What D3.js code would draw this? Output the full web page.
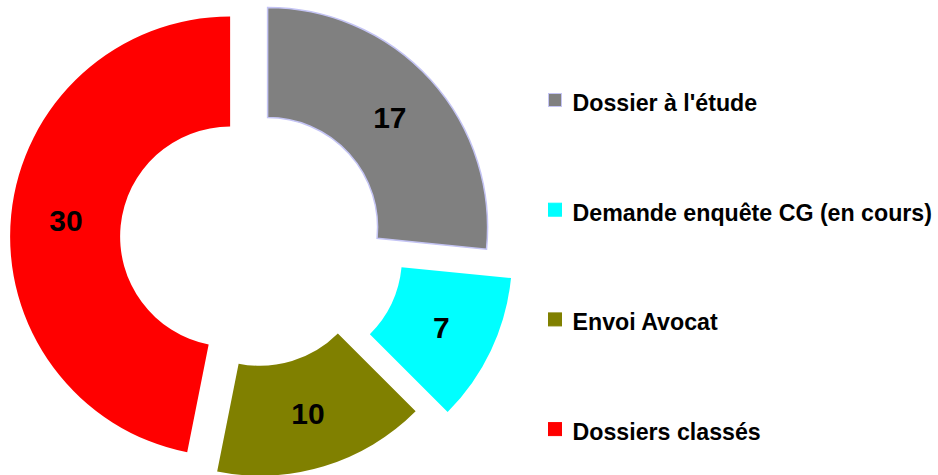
<!DOCTYPE html>
<html>
<head>
<meta charset="utf-8">
<script src="https://cdn.jsdelivr.net/npm/d3@7"></script>
<style>
  body { margin: 0; background: #fff; }
  text { font-family: "Liberation Sans", Arial, sans-serif; font-weight: bold; }
</style>
</head>
<body>
<div class="chart"></div>
<script>
var svgWidth = 938;
var svgHeight = 475;

// data
var categories = ["Dossier à l'étude", "Demande enquête CG (en cours)", "Envoi Avocat", "Dossiers classés"];
var values = [17, 7, 10, 30];
var colors = ["#808080", "#00ffff", "#808000", "#ff0000"];
// how far each slice is pulled out of the ring
var explode = [17, 41, 17.5, 25];

var cx = 255, cy = 239;
var outerR = 220, innerR = 110;

var svg = d3.select(".chart")
  .append("svg")
  .attr("width", svgWidth)
  .attr("height", svgHeight);

var pie = d3.pie()
  .sort(null)
  .value(function (d) { return d; });

var arcs = pie(values);

var arc = d3.arc()
  .innerRadius(innerR)
  .outerRadius(outerR);

var pieGroup = svg.append("g")
  .attr("transform", `translate(${cx}, ${cy})`);

var slices = pieGroup.selectAll("g.slice")
  .data(arcs)
  .enter()
  .append("g")
  .attr("class", "slice")
  .attr("transform", function (d, i) {
    var mid = (d.startAngle + d.endAngle) / 2;
    return `translate(${Math.sin(mid) * explode[i]}, ${-Math.cos(mid) * explode[i]})`;
  });

slices.append("path")
  .attr("d", arc)
  .attr("fill", function (d, i) { return colors[i]; })
  .attr("stroke", function (d, i) { return i === 0 ? "#c4c4f4" : "none"; })
  .attr("stroke-width", 1.5);

slices.append("text")
  .attr("transform", function (d) { return `translate(${arc.centroid(d)})`; })
  .attr("text-anchor", "middle")
  .attr("dy", "0.36em")
  .attr("font-size", "30px")
  .attr("fill", "#000")
  .text(function (d) { return d.data; });

// legend
var legend = svg.append("g")
  .attr("transform", "translate(548, 100)");

var rows = legend.selectAll("g")
  .data(categories)
  .enter()
  .append("g")
  .attr("transform", function (d, i) { return `translate(0, ${i * 109.7})`; });

rows.append("rect")
  .attr("x", 0.5)
  .attr("y", -6.5)
  .attr("width", 13)
  .attr("height", 13)
  .attr("fill", function (d, i) { return colors[i]; })
  .attr("stroke", function (d, i) { return i === 0 ? "#c4c4f4" : colors[i]; })
  .attr("stroke-width", 1);

rows.append("text")
  .attr("x", 24.5)
  .attr("y", 11)
  .attr("font-size", "23.2px")
  .attr("fill", "#000")
  .text(function (d) { return d; });
</script>
</body>
</html>
